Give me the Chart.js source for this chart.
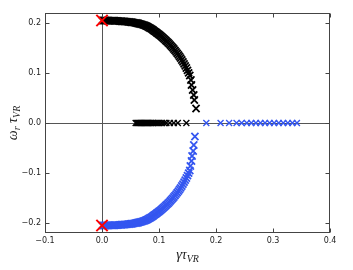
<!DOCTYPE html>
<html>
<head>
<meta charset="utf-8">
<script src="https://cdn.jsdelivr.net/npm/chart.js@4"></script>
<style>
  html, body { margin: 0; padding: 0; background: #fff; }
  #chart { display: block; }
</style>
</head>
<body>
<canvas id="chart" width="353" height="270"></canvas>
<script>
'use strict';

// upper branch (black)
const upperX = [0.000, 0.002, 0.004, 0.006, 0.008, 0.010, 0.012, 0.014, 0.016, 0.018,
                0.020, 0.022, 0.024, 0.026, 0.028, 0.030, 0.032, 0.034, 0.036, 0.038,
                0.040, 0.042, 0.044, 0.046, 0.048, 0.050, 0.052, 0.054, 0.056, 0.058,
                0.060, 0.062, 0.064, 0.066, 0.068, 0.070, 0.072, 0.074, 0.076, 0.078,
                0.080, 0.082, 0.084, 0.086, 0.088, 0.090, 0.092, 0.094, 0.096, 0.098,
                0.100, 0.102, 0.104, 0.106, 0.108, 0.110, 0.112, 0.114, 0.116, 0.118,
                0.120, 0.122, 0.124, 0.126, 0.128, 0.130, 0.132, 0.134, 0.136, 0.138,
                0.140, 0.142, 0.144, 0.146, 0.148, 0.150, 0.152, 0.154, 0.156, 0.157,
                0.159, 0.161, 0.162, 0.165];
const upperY = [0.2050, 0.2050, 0.2050, 0.2050, 0.2049, 0.2049, 0.2048, 0.2048, 0.2047, 0.2047,
                0.2046, 0.2045, 0.2044, 0.2043, 0.2041, 0.2039, 0.2037, 0.2035, 0.2033, 0.2032,
                0.2030, 0.2028, 0.2026, 0.2024, 0.2022, 0.2018, 0.2015, 0.2012, 0.2008, 0.2004,
                0.2000, 0.1995, 0.1990, 0.1984, 0.1978, 0.1971, 0.1964, 0.1956, 0.1948, 0.1938,
                0.1926, 0.1914, 0.1900, 0.1886, 0.1871, 0.1855, 0.1838, 0.1822, 0.1805, 0.1788,
                0.1770, 0.1751, 0.1732, 0.1712, 0.1692, 0.1671, 0.1650, 0.1628, 0.1605, 0.1582,
                0.1558, 0.1533, 0.1507, 0.1480, 0.1452, 0.1423, 0.1393, 0.1362, 0.1330, 0.1296,
                0.1260, 0.1223, 0.1184, 0.1143, 0.1100, 0.1053, 0.1003, 0.0950, 0.0860, 0.0760,
                0.0660, 0.0560, 0.0460, 0.0290];

// lower branch (blue)
const lowerX = [0.000, 0.002, 0.004, 0.006, 0.008, 0.010, 0.012, 0.014, 0.016, 0.018,
                0.020, 0.022, 0.024, 0.026, 0.028, 0.030, 0.032, 0.034, 0.036, 0.038,
                0.040, 0.042, 0.044, 0.046, 0.048, 0.050, 0.052, 0.054, 0.056, 0.058,
                0.060, 0.062, 0.064, 0.066, 0.068, 0.070, 0.072, 0.074, 0.076, 0.078,
                0.080, 0.082, 0.084, 0.086, 0.088, 0.090, 0.092, 0.094, 0.096, 0.098,
                0.100, 0.102, 0.104, 0.106, 0.108, 0.110, 0.112, 0.114, 0.116, 0.118,
                0.120, 0.122, 0.124, 0.126, 0.128, 0.130, 0.132, 0.134, 0.136, 0.138,
                0.140, 0.142, 0.144, 0.146, 0.148, 0.150, 0.152, 0.154, 0.155, 0.157,
                0.158, 0.160, 0.161, 0.163];
const lowerY = [-0.2050, -0.2050, -0.2050, -0.2050, -0.2049, -0.2049, -0.2048, -0.2048, -0.2047, -0.2047,
                -0.2046, -0.2045, -0.2044, -0.2043, -0.2041, -0.2039, -0.2037, -0.2035, -0.2033, -0.2032,
                -0.2030, -0.2028, -0.2026, -0.2024, -0.2022, -0.2018, -0.2015, -0.2012, -0.2008, -0.2004,
                -0.2000, -0.1995, -0.1990, -0.1984, -0.1978, -0.1971, -0.1964, -0.1956, -0.1948, -0.1938,
                -0.1926, -0.1914, -0.1900, -0.1886, -0.1871, -0.1855, -0.1838, -0.1822, -0.1805, -0.1788,
                -0.1770, -0.1751, -0.1732, -0.1712, -0.1692, -0.1671, -0.1650, -0.1628, -0.1605, -0.1582,
                -0.1558, -0.1533, -0.1507, -0.1480, -0.1452, -0.1423, -0.1393, -0.1362, -0.1330, -0.1296,
                -0.1260, -0.1223, -0.1184, -0.1143, -0.1100, -0.1053, -0.1003, -0.0950, -0.0860, -0.0760,
                -0.0660, -0.0560, -0.0440, -0.0270];

// points sitting on the real axis
const blackAxisX = [0.059, 0.061, 0.063, 0.065, 0.067, 0.069, 0.071, 0.073, 0.075, 0.077,
                    0.079, 0.081, 0.083, 0.085, 0.087, 0.089, 0.092, 0.095, 0.098, 0.101,
                    0.105, 0.109, 0.113, 0.119, 0.126, 0.133, 0.148];
const blueAxisX = [0.183, 0.208, 0.223, 0.236, 0.245, 0.254, 0.262, 0.270, 0.278, 0.286,
                   0.294, 0.302, 0.310, 0.318, 0.326, 0.334, 0.342];

// starting points (red)
const startX = [0, 0];
const startY = [0.205, -0.205];

const xTicks = [-0.1, 0.0, 0.1, 0.2, 0.3, 0.4];
const yTicks = [-0.2, -0.1, 0.0, 0.1, 0.2];

const blue = 'rgb(52, 86, 240)';

function pts(xs, ys) {
    return xs.map((x, i) => ({ x: x, y: ys[i] }));
}
function onAxis(xs) {
    return xs.map(x => ({ x: x, y: 0 }));
}
function fmt(v) {
    return v.toFixed(1).replace('-', '\u2212');
}

function cross(color, r, w) {
    return {
        type: 'scatter',
        showLine: false,
        pointStyle: 'crossRot',
        pointRadius: r,
        pointHoverRadius: r,
        pointBorderWidth: w,
        borderColor: color,
        backgroundColor: color
    };
}

// draws text with italic subscripts, like matplotlib mathtext
function mathText(ctx, parts, cx, cy) {
    const big = 'italic 14px "Liberation Serif"',
          small = 'italic 10px "Liberation Serif"';
    let total = 0;
    parts.forEach(p => {
        ctx.font = p[1] ? small : big;
        total += ctx.measureText(p[0]).width;
    });
    let x = cx - total / 2;
    ctx.textAlign = 'left';
    ctx.textBaseline = 'alphabetic';
    parts.forEach(p => {
        ctx.font = p[1] ? small : big;
        ctx.fillText(p[0], x, cy + (p[1] ? 3 : 0));
        x += ctx.measureText(p[0]).width;
    });
}

const decor = {
    id: 'decor',
    beforeDatasetsDraw(chart) {
        const { ctx, chartArea: a, scales } = chart;
        const x0 = Math.round(scales.x.getPixelForValue(0)) + 0.5,
              y0 = Math.round(scales.y.getPixelForValue(0)) + 0.5;
        ctx.save();
        ctx.strokeStyle = '#555';
        ctx.lineWidth = 1;
        ctx.beginPath();
        ctx.moveTo(x0, a.top); ctx.lineTo(x0, a.bottom);
        ctx.moveTo(a.left, y0); ctx.lineTo(a.right, y0);
        ctx.stroke();
        ctx.restore();
    },
    afterDraw(chart) {
        const { ctx, chartArea: a, scales } = chart;
        ctx.save();
        ctx.strokeStyle = '#444';
        ctx.lineWidth = 1;
        const L = Math.round(a.left) + 0.5, R = Math.round(a.right) - 0.5,
              T = Math.round(a.top) + 0.5, B = Math.round(a.bottom) - 0.5;
        ctx.strokeRect(L, T, R - L, B - T);
        // inward ticks on all four sides
        ctx.beginPath();
        xTicks.forEach(v => {
            const px = Math.round(scales.x.getPixelForValue(v)) + 0.5;
            ctx.moveTo(px, B); ctx.lineTo(px, B - 4);
            ctx.moveTo(px, T); ctx.lineTo(px, T + 4);
        });
        yTicks.forEach(v => {
            const py = Math.round(scales.y.getPixelForValue(v)) + 0.5;
            ctx.moveTo(L, py); ctx.lineTo(L + 4, py);
            ctx.moveTo(R, py); ctx.lineTo(R - 4, py);
        });
        ctx.stroke();

        ctx.fillStyle = '#222';
        mathText(ctx, [['\u03b3', false], ['\u03c4', false], ['VR', true]], (a.left + a.right) / 2, 259);
        ctx.translate(17, (a.top + a.bottom) / 2);
        ctx.rotate(-Math.PI / 2);
        mathText(ctx, [['\u03c9', false], ['r', true], [' \u03c4', false], ['VR', true]], 0, 0);
        ctx.restore();
    }
};

// Chart.js paints the first dataset last, so the red starting points go first
new Chart(document.getElementById('chart'), {
    type: 'scatter',
    data: {
        datasets: [
            Object.assign(cross('red', 8, 2), { data: pts(startX, startY) }),
            Object.assign(cross('#000', 5, 1.8), { data: pts(upperX, upperY) }),
            Object.assign(cross('#000', 4.2, 1.4), { data: onAxis(blackAxisX) }),
            Object.assign(cross(blue, 5, 1.8), { data: pts(lowerX, lowerY) }),
            Object.assign(cross(blue, 4.2, 1.4), { data: onAxis(blueAxisX) })
        ]
    },
    options: {
        responsive: false,
        animation: false,
        events: [],
        layout: { padding: { left: 0, right: 23, top: 13, bottom: 0 } },
        plugins: {
            legend: { display: false },
            tooltip: { enabled: false }
        },
        scales: {
            x: {
                type: 'linear',
                min: -0.1,
                max: 0.4,
                grid: { display: false, drawTicks: false },
                border: { display: false },
                afterBuildTicks: s => { s.ticks = xTicks.map(v => ({ value: v })); },
                afterFit: s => { s.height = 37; },
                ticks: {
                    padding: 3,
                    maxRotation: 0,
                    color: '#222',
                    font: { family: '"DejaVu Sans"', size: 8 },
                    callback: v => fmt(v)
                }
            },
            y: {
                type: 'linear',
                min: -0.22,
                max: 0.22,
                grid: { display: false, drawTicks: false },
                border: { display: false },
                afterBuildTicks: s => { s.ticks = yTicks.map(v => ({ value: v })); },
                afterFit: s => { s.width = 45; },
                ticks: {
                    padding: 4,
                    color: '#222',
                    font: { family: '"DejaVu Sans"', size: 8 },
                    callback: v => fmt(v)
                }
            }
        }
    },
    plugins: [decor]
});
</script>
</body>
</html>
